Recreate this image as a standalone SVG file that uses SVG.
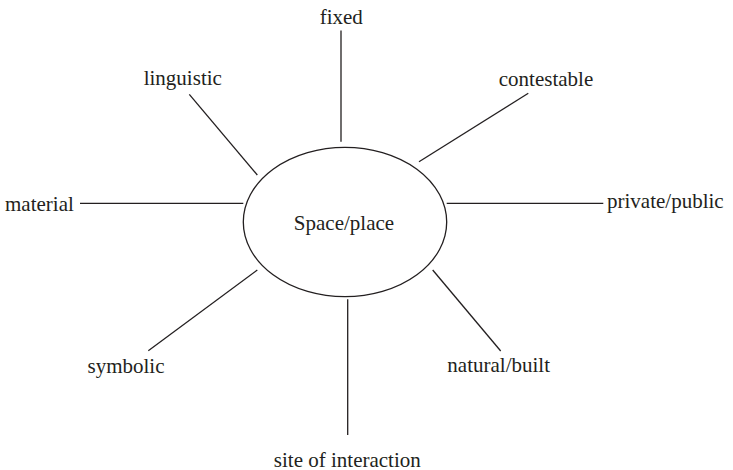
<svg xmlns="http://www.w3.org/2000/svg" width="733" height="470" viewBox="0 0 733 470">
<style>
text{font-family:"Liberation Serif","Times New Roman",serif;font-size:21px;fill:#231f20}
.c{stroke:#231f20;stroke-width:1.3;fill:none}
.m{text-anchor:middle}
</style>
<rect width="733" height="470" fill="#fff"/>
<g id="connectors">
<line class="c" x1="341" y1="30.5" x2="341" y2="141.7"/>
<line class="c" x1="189.3" y1="94.3" x2="257.3" y2="175"/>
<line class="c" x1="528.3" y1="93.3" x2="419" y2="161.7"/>
<line class="c" x1="446.7" y1="203.3" x2="603.3" y2="203.3"/>
<line class="c" x1="80" y1="203.3" x2="243.3" y2="203.3"/>
<line class="c" x1="148.3" y1="350.7" x2="257.3" y2="270"/>
<line class="c" x1="347.7" y1="299.3" x2="347.7" y2="435"/>
<line class="c" x1="432.7" y1="270" x2="500.7" y2="351"/>
</g>
<g id="center"><ellipse class="c" cx="345" cy="222" rx="101.7" ry="74.7"/><text class="m" x="344" y="230">Space/place</text></g>
<g id="fixed"><text class="m" x="341.3" y="24">fixed</text></g>
<g id="linguistic"><text class="m" x="182.8" y="85">linguistic</text></g>
<g id="contestable"><text class="m" x="546" y="86">contestable</text></g>
<g id="private-public"><text x="607" y="208.3" font-size="21.5">private/public</text></g>
<g id="material"><text x="5" y="210.7">material</text></g>
<g id="symbolic"><text class="m" x="126" y="372.5">symbolic</text></g>
<g id="natural-built"><text class="m" x="498.7" y="372">natural/built</text></g>
<g id="site-of-interaction"><text class="m" x="347.3" y="466.5">site of interaction</text></g>
</svg>
